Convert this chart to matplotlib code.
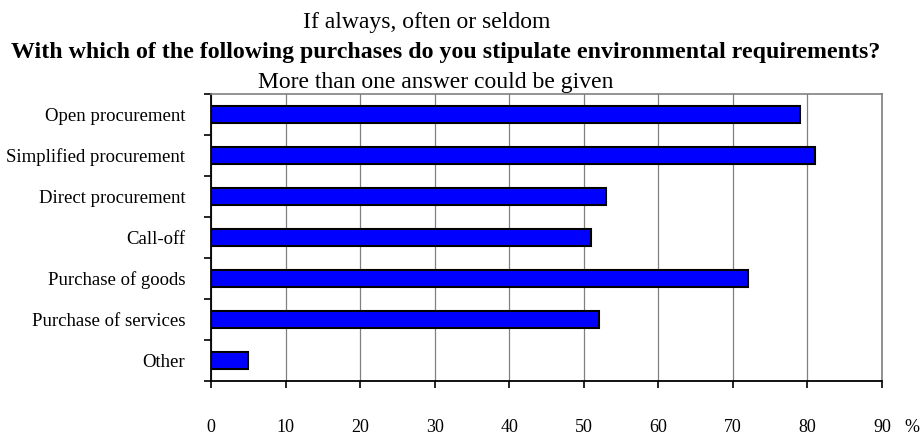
import matplotlib
matplotlib.use("Agg")
import matplotlib.pyplot as plt

categories = ["Open procurement", "Simplified procurement", "Direct procurement",
              "Call-off", "Purchase of goods", "Purchase of services", "Other"]
values = [79, 81, 53, 51, 72, 52, 5]
xticks = [0, 10, 20, 30, 40, 50, 60, 70, 80, 90]

plt.rcParams['font.family'] = ['Liberation Serif', 'DejaVu Serif']

fig = plt.figure(figsize=(9.21, 4.37), dpi=100)
W, H = 921, 437
left, right, top, bottom = 211, 882, 94, 381
ax = fig.add_axes([left / W, 1 - bottom / H, (right - left) / W, (bottom - top) / H])

n = len(categories)
ypos = list(range(n))
ax.barh(ypos, values, height=0.42, color="#0000FF", edgecolor="black", linewidth=1.5, zorder=3)
ax.set_ylim(n - 0.5, -0.5)
ax.set_xlim(0, 90)

ax.set_yticks([i - 0.5 for i in range(n + 1)])
ax.set_yticklabels([])
ax.set_yticks(ypos, minor=True)
ax.set_yticklabels(categories, minor=True, fontsize=13.5)
ax.tick_params(axis='y', which='minor', length=0, pad=18.5)
ax.tick_params(axis='y', which='major', length=5, width=1.2, direction='out')

ax.set_xticks(xticks)
ax.set_xticklabels([str(t) for t in xticks], fontsize=13)
ax.tick_params(axis='x', length=5, width=1.2, direction='out', pad=22)

ax.grid(axis='x', color='#808080', linewidth=0.9, zorder=0)
for s in ['left', 'bottom']:
    ax.spines[s].set_color('black')
    ax.spines[s].set_linewidth(1.3)
for s in ['top', 'right']:
    ax.spines[s].set_color('#808080')
    ax.spines[s].set_linewidth(1.2)

fig.text(427 / W, 1 - 28 / H, "If always, often or seldom", ha='center', va='baseline', fontsize=17)
fig.text(446 / W, 1 - 58 / H, "With which of the following purchases do you stipulate environmental requirements?",
         ha='center', va='baseline', fontsize=17.2, fontweight='bold')
fig.text(436 / W, 1 - 88 / H, "More than one answer could be given", ha='center', va='baseline', fontsize=17)
fig.text(912 / W, 1 - 427 / H, "%", ha='center', va='center', fontsize=13)

fig.savefig("out.png", dpi=100)
